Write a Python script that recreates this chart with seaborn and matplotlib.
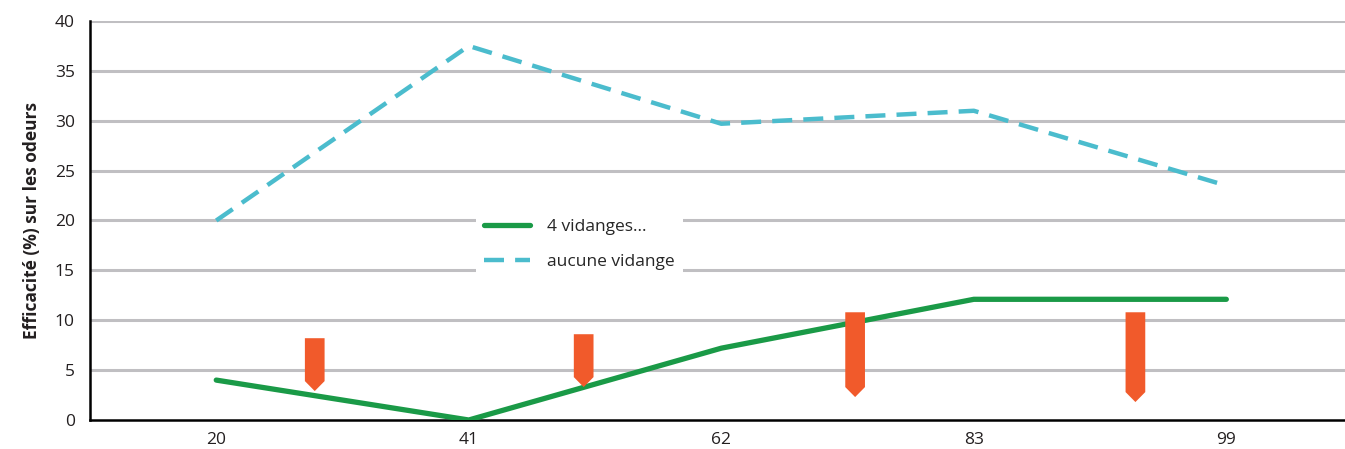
import numpy as np
import pandas as pd
import seaborn as sns
import matplotlib.pyplot as plt
from matplotlib.patches import Polygon

categories = ["20", "41", "62", "83", "99"]
four_drains = [4.0, 0.0, 7.2, 12.1, 12.1]
no_drain = [20.0, 37.5, 29.7, 31.0, 23.5]
arrow_pos = [0.39, 1.455, 2.53, 3.64]
arrow_top = [8.2, 8.6, 10.8, 10.8]
arrow_tip = [2.9, 3.3, 2.3, 1.8]

sns.set_theme(style="white")
plt.rcParams['font.family'] = ['Open Sans', 'DejaVu Sans']

fig = plt.figure(figsize=(13.45, 4.49), dpi=100)
ax = fig.add_axes([90/1345, 29/449, 1 - 90/1345, (420-21)/449])

x = np.arange(len(categories))
df = pd.DataFrame({"x": np.concatenate([x, x]),
                   "y": four_drains + no_drain,
                   "s": ["4 vidanges..."] * 5 + ["aucune vidange"] * 5})

for yv in range(5, 45, 5):
    ax.axhline(yv, color="#c0bfc2", lw=2.2, zorder=0)

sns.lineplot(data=df[df.s == "4 vidanges..."], x="x", y="y", ax=ax,
             color="#1a9a47", lw=3.8, label="4 vidanges...", zorder=3)
sns.lineplot(data=df[df.s == "aucune vidange"], x="x", y="y", ax=ax,
             color="#4bbccd", lw=3.2, label="aucune vidange", zorder=3,
             linestyle=(0, (4.5, 2.5)))

w = 0.078
for xp, t, tip in zip(arrow_pos, arrow_top, arrow_tip):
    poly = Polygon([(xp - w/2, t), (xp + w/2, t), (xp + w/2, tip + 1.0),
                    (xp, tip), (xp - w/2, tip + 1.0)], closed=True,
                   facecolor="#f15a2b", edgecolor="none", zorder=4)
    ax.add_patch(poly)

ax.set_xlim(-0.5, 4.47)
ax.set_ylim(0, 40)
ax.set_yticks(range(0, 45, 5))
ax.set_xticks(x)
ax.set_xticklabels(categories)
ax.set_xticks(np.arange(-0.5, 4.0, 1.0), minor=True)
ax.tick_params(axis="x", which="major", length=0, labelsize=12.5, colors="#231f20", pad=9)
ax.tick_params(axis="x", which="minor", length=5, width=2, color="black", direction="out")
ax.tick_params(axis="y", which="major", length=5, width=1.5, color="black",
               direction="out", labelsize=12.5, labelcolor="#231f20", pad=6)
ax.set_xlabel("")
ax.set_ylabel("Efficacité (%) sur les odeurs", fontsize=12.5, fontweight="bold",
              color="#231f20", labelpad=10)
for s in ["top", "right"]:
    ax.spines[s].set_visible(False)
for s in ["left", "bottom"]:
    ax.spines[s].set_color("black")
    ax.spines[s].set_linewidth(1.8)

leg = ax.legend(loc="center", bbox_to_anchor=(0.39, 0.44), frameon=True,
                fontsize=12.5, handlelength=2.6, labelspacing=1.1, borderpad=0.5,
                handletextpad=1.0)
leg.get_frame().set_facecolor("white")
leg.get_frame().set_edgecolor("none")
leg.get_frame().set_alpha(1)
leg.set_zorder(5)

fig.savefig("out.png", dpi=100)
